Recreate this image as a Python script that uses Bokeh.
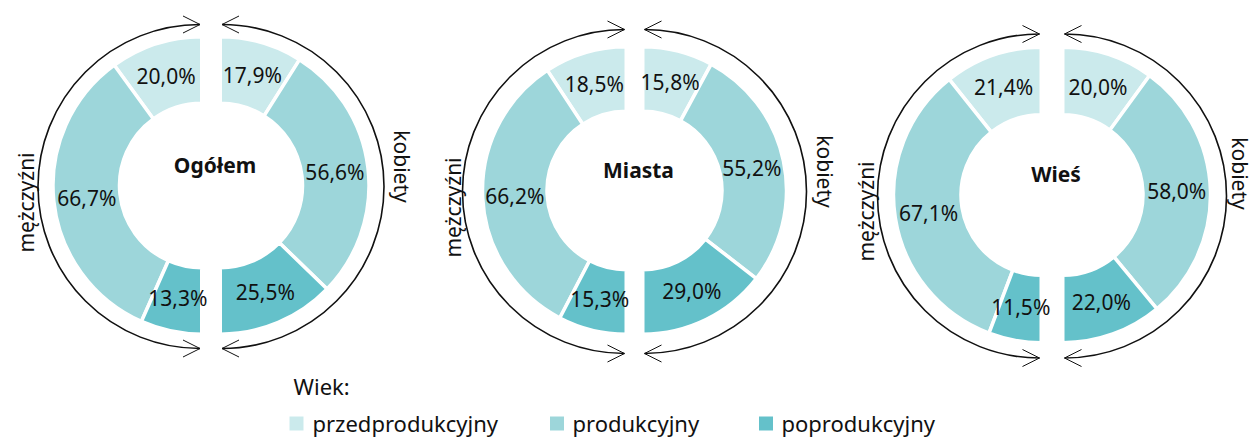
import math
from bokeh.plotting import figure
from bokeh.models import Range1d, Arrow, OpenHead, ColumnDataSource
from bokeh.core.properties import value
from bokeh.embed import file_html
from bokeh.resources import INLINE

# ---------------- data ----------------
categories = ["przedprodukcyjny", "produkcyjny", "poprodukcyjny"]
colors = ["#CBEAEC", "#9DD6DA", "#64C1CA"]
groups = ["Ogółem", "Miasta", "Wieś"]
men_ogolem = [20.0, 66.7, 13.3]
women_ogolem = [17.9, 56.6, 25.5]
men_miasta = [18.5, 66.2, 15.3]
women_miasta = [15.8, 55.2, 29.0]
men_wies = [21.4, 67.1, 11.5]
women_wies = [20.0, 58.0, 22.0]
men_label = "mężczyźni"
women_label = "kobiety"
legend_title = "Wiek:"

# ---------------- layout (reference pixel coordinates) ----------------
W, H = 1253, 437
FONT = value("Noto Sans")
FS = "21px"
LFS = "22px"
# (cx, cy, half_gap, r_out, r_in)
layouts = [
    (210.5, 185.0, 11.0, 147.0, 84.0),
    (634.0, 190.0, 10.0, 142.0, 81.0),
    (1051.5, 194.5, 12.5, 146.0, 82.0),
]
ARC_R = 162.0
men_text_pos = [(25, 202), (452, 207), (865, 211)]
women_text_pos = [(401, 166), (824, 171), (1239, 173)]


def X(px):
    return px


def Y(py):
    return H - py


p = figure(width=W, height=H, x_range=Range1d(0, W), y_range=Range1d(0, H),
           output_backend="svg", toolbar_location=None, min_border=0)
p.axis.visible = False
p.grid.visible = False
p.outline_line_color = None
p.background_fill_color = "white"
p.border_fill_color = "white"

series = [(men_ogolem, women_ogolem), (men_miasta, women_miasta), (men_wies, women_wies)]
SW = 3.5  # separator width

for gi, (group, (men, women), lay) in enumerate(zip(groups, series, layouts)):
    cx, cy, hg, ro, ri = lay
    mx, wx = cx - hg, cx + hg
    xs, ys, sa, ea, cols, lx, ly, lt = [], [], [], [], [], [], [], []
    cum = 0.0
    for v, c in zip(men, colors):
        a0 = 90 + cum / 100 * 180
        a1 = 90 + (cum + v) / 100 * 180
        xs.append(X(mx + SW / 2)); ys.append(Y(cy))
        sa.append(math.radians(a0)); ea.append(math.radians(a1)); cols.append(c)
        am = math.radians((a0 + a1) / 2)
        rm = (ro + ri) / 2
        lx.append(X(mx + SW / 2) + rm * math.cos(am)); ly.append(Y(cy) + rm * math.sin(am))
        lt.append(f"{v:.1f}".replace(".", ",") + "%")
        cum += v
    cum = 0.0
    for v, c in zip(women, colors):
        a1 = 90 - cum / 100 * 180
        a0 = 90 - (cum + v) / 100 * 180
        xs.append(X(wx - SW / 2)); ys.append(Y(cy))
        sa.append(math.radians(a0)); ea.append(math.radians(a1)); cols.append(c)
        am = math.radians((a0 + a1) / 2)
        rm = (ro + ri) / 2
        lx.append(X(wx - SW / 2) + rm * math.cos(am)); ly.append(Y(cy) + rm * math.sin(am))
        lt.append(f"{v:.1f}".replace(".", ",") + "%")
        cum += v
    src = ColumnDataSource(dict(x=xs, y=ys, sa=sa, ea=ea, c=cols))
    p.annular_wedge(x="x", y="y", inner_radius=ri - SW / 2, outer_radius=ro + SW / 2,
                    start_angle="sa", end_angle="ea", fill_color="c",
                    line_color="white", line_width=SW, source=src)
    p.text(x=lx, y=ly, text=lt, text_font=FONT, text_font_size=FS,
           text_align="center", text_baseline="middle", text_color="#111111")
    # title
    p.text(x=[X(cx + 4)], y=[Y(cy - 21)], text=[group], text_font=FONT,
           text_font_size=FS, text_font_style="bold", text_align="center",
           text_baseline="middle", text_color="#111111")
    # arcs with arrows
    p.arc(x=[X(mx)], y=[Y(cy + 1)], radius=ARC_R, start_angle=math.pi / 2,
          end_angle=3 * math.pi / 2, direction="anticlock", line_color="#111111", line_width=1.6)
    p.arc(x=[X(wx)], y=[Y(cy + 1)], radius=ARC_R, start_angle=-math.pi / 2,
          end_angle=math.pi / 2, direction="anticlock", line_color="#111111", line_width=1.6)
    for (ax, d) in ((mx, 1), (wx, -1)):
        for sgn in (1, -1):
            ty = Y(cy + 1) + sgn * ARC_R
            p.add_layout(Arrow(end=OpenHead(size=17, line_width=1.0, line_color="#111111"),
                               x_start=X(ax) - d * 1.0, y_start=ty, x_end=X(ax), y_end=ty,
                               line_alpha=0))
    # side labels
    p.text(x=[X(men_text_pos[gi][0])], y=[Y(men_text_pos[gi][1])], text=[men_label],
           angle=math.pi / 2, text_font=FONT, text_font_size=FS, text_align="center",
           text_baseline="middle", text_color="#111111")
    p.text(x=[X(women_text_pos[gi][0])], y=[Y(women_text_pos[gi][1])], text=[women_label],
           angle=-math.pi / 2, text_font=FONT, text_font_size=FS, text_align="center",
           text_baseline="middle", text_color="#111111")

# legend
p.text(x=[X(293)], y=[Y(385)], text=[legend_title], text_font=FONT, text_font_size=LFS,
       text_align="left", text_baseline="middle", text_color="#111111")
sq_x = [296, 556.5, 765.5]
tx_x = [312, 572, 781]
p.rect(x=[X(v) for v in sq_x], y=[Y(423)] * 3, width=14, height=14, fill_color=colors,
       line_color=None)
p.text(x=[X(v) for v in tx_x], y=[Y(422)] * 3, text=categories, text_font=FONT,
       text_font_size=LFS, text_align="left", text_baseline="middle", text_color="#111111")

open("out.html", "w").write(file_html(p, INLINE))
